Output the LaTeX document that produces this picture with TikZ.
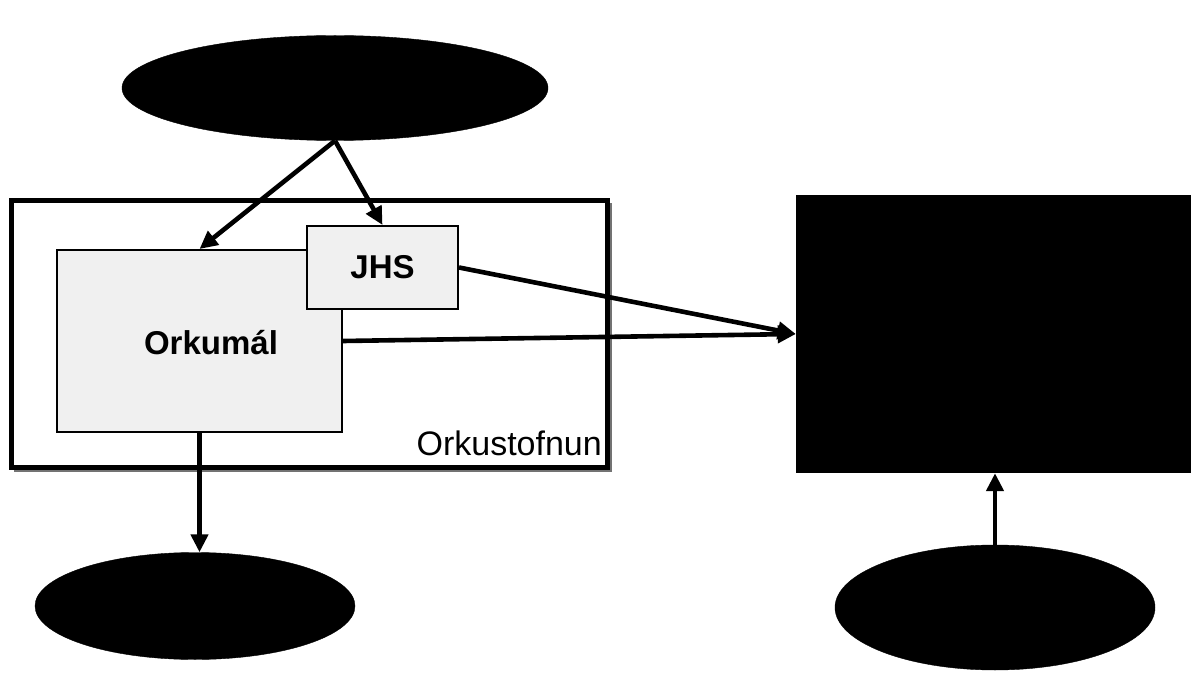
\documentclass[tikz,border=0pt]{standalone}
\usepackage{fontspec}
\setmainfont{Liberation Sans}
\usetikzlibrary{shapes.geometric,arrows.meta,calc}
\tikzset{
  blob/.style={ellipse,fill=black,draw=black,inner sep=0pt},
  lightbox/.style={draw=black,line width=2pt,fill=black!6,inner sep=0pt,font=\fontsize{33}{36}\selectfont\bfseries},
  conn/.style={line width=4.6pt,-{Triangle[length=18pt,width=17pt]}},
}
\begin{document}
\begin{tikzpicture}[x=1pt,y=-1pt]
\useasboundingbox (0,0) rectangle (1191,676);
% outer box
\draw[black!55,line width=1.2pt] (14,471) -- (611,471) -- (611,203);
\node[draw=black,line width=5pt,minimum width=596pt,minimum height=266pt,inner sep=0pt] (outer) at (309,334) {};
\node[anchor=south east,font=\fontsize{34}{38}\selectfont,inner sep=0pt] (olabel) at (602,456) {Orkustofnun};
% inner boxes
\node[lightbox,minimum width=285pt,minimum height=182pt] (ork) at (199.5,341) {};
\node[font=\fontsize{33}{36}\selectfont\bfseries] (orktext) at (211,343) {Orkumál};
\node[lightbox,minimum width=151pt,minimum height=83pt] (jhs) at (382.5,267.5) {JHS};
% black shapes
\node[blob,minimum width=426pt,minimum height=105pt] (top) at (335,88) {};
\node[fill=black,minimum width=395pt,minimum height=278pt,inner sep=0pt] (rect) at (993.5,334) {};
\node[blob,minimum width=320pt,minimum height=107pt] (bl) at (195,606) {};
\node[blob,minimum width=320pt,minimum height=125pt] (br) at (995,607.5) {};
% connectors
\draw[conn] (top.south) -- (ork.north);
\draw[conn] (top.south) -- (jhs.north);
\draw[conn] (jhs.east) -- (rect.west);
\draw[conn] (ork.east) -- (rect.west);
\draw[conn] (ork.south) -- (ork.south |- bl.north);
\draw[conn] (br.north) -- (br.north |- rect.south);
\end{tikzpicture}
\end{document}
